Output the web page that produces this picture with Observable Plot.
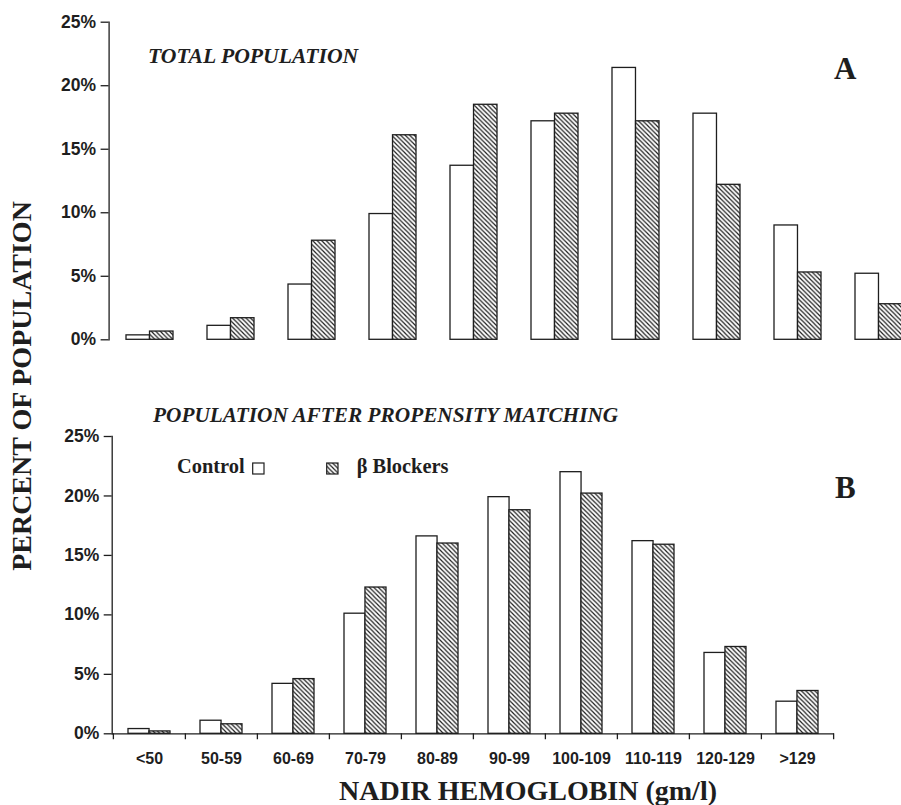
<!DOCTYPE html>
<html><head><meta charset="utf-8">
<script src="https://cdn.jsdelivr.net/npm/d3@7"></script>
<script src="https://cdn.jsdelivr.net/npm/@observablehq/plot@0.6"></script>
<style>
body{margin:0;background:#fff;}
#wrap{position:relative;width:901px;height:805px;overflow:hidden;background:#fff;}
</style></head><body><div id="wrap"></div>
<script>
// ---- data ----
const categories = ["<50","50-59","60-69","70-79","80-89","90-99","100-109","110-119","120-129",">129"];
const groups = ["Control","β Blockers"];
const totalControl  = [0.35,1.1,4.35,9.9,13.7,17.2,21.4,17.8,9.0,5.2];
const totalBlockers = [0.65,1.7,7.8,16.1,18.5,17.8,17.2,12.2,5.3,2.8];
const matchedControl  = [0.4,1.1,4.2,10.1,16.6,19.9,22.0,16.2,6.8,2.7];
const matchedBlockers = [0.2,0.8,4.6,12.3,16.0,18.8,20.2,15.9,7.3,3.6];
const yTicks = [0,5,10,15,20,25];
const panelTitles = ["TOTAL POPULATION","POPULATION AFTER PROPENSITY MATCHING"];
const panelLetters = ["A","B"];
const yTitle = "PERCENT OF POPULATION";
const xTitle = "NADIR HEMOGLOBIN (gm/l)";

const toRows = (a, b) => categories.flatMap((c, i) => [
  {cat: c, group: groups[0], value: a[i]},
  {cat: c, group: groups[1], value: b[i]}
]);
const topRows = toRows(totalControl, totalBlockers);
const botRows = toRows(matchedControl, matchedBlockers);

const ink = "#1e1e1e";
const wrap = document.getElementById("wrap");

// overlay svg with pattern defs, titles, legend
const ov = d3.select(wrap).append("svg")
  .attr("width", 901).attr("height", 805)
  .style("position","absolute").style("left","0").style("top","0")
  .style("z-index","2").style("pointer-events","none");
const pat = ov.append("defs").append("pattern")
  .attr("id","hatch").attr("patternUnits","userSpaceOnUse")
  .attr("width",4.5).attr("height",4.5);
pat.append("rect").attr("width",4.5).attr("height",4.5).attr("fill","white");
pat.append("path").attr("d","M-1,-1 L5.5,5.5 M3.5,-1 L5.5,1 M-1,3.5 L1,5.5")
  .attr("stroke", ink).attr("stroke-width",1.2);

const PAD_IN = 0.42, PAD_OUT = 0.21;

function panel({rows, top, height, mTop, mBottom, mLeft, xRange, showX}) {
  const n = categories.length;
  const step = (xRange[1] - xRange[0]) / n;
  const half = step * (1 - PAD_IN) / 2;
  const marks = [
    Plot.barY(rows.filter(d => d.group === groups[0]), {
      x: "cat", y: "value", fill: "white", stroke: ink, strokeWidth: 1.3, insetRight: half
    }),
    Plot.barY(rows.filter(d => d.group === groups[1]), {
      x: "cat", y: "value", fill: "url(#hatch)", stroke: ink, strokeWidth: 1.3, insetLeft: half
    }),
    Plot.axisY({ticks: yTicks, tickFormat: d => d + "%", tickSize: 8, tickPadding: 5,
      fontSize: 17.5, strokeWidth: 1.3, label: null}),
    Plot.frame({anchor: "left", stroke: ink, strokeWidth: 1.3})
  ];
  if (showX) {
    marks.push(
      Plot.ruleY([0], {stroke: ink, strokeWidth: 1.3}),
      Plot.ruleX(categories, {x: d => d, y1: 0, y2: -0.5, dx: -step / 2, stroke: ink, strokeWidth: 1.3}),
      Plot.ruleX(categories.slice(-1), {x: d => d, y1: 0, y2: -0.5, dx: step / 2, stroke: ink, strokeWidth: 1.3}),
      Plot.axisX({tickSize: 0, tickPadding: 18.5, fontSize: 16, label: null})
    );
  }
  const svg = Plot.plot({
    width: 901, height,
    marginTop: mTop, marginBottom: mBottom, marginLeft: mLeft, marginRight: 901 - xRange[1],
    x: {type: "band", domain: categories, range: xRange, paddingInner: PAD_IN, paddingOuter: PAD_OUT, label: null, axis: null},
    y: {domain: [0, 25], label: null, axis: null},
    style: {fontFamily: "'Liberation Sans', Arial, sans-serif", fontWeight: "bold", color: ink, background: "transparent", overflow: "hidden"},
    marks
  });
  svg.style.position = "absolute";
  svg.style.left = "0px";
  svg.style.top = top + "px";
  svg.style.overflow = "hidden";
  wrap.appendChild(svg);
}

panel({rows: topRows, top: 0, height: 360, mTop: 21.7, mBottom: 20.7, mLeft: 108.6, xRange: [108.6, 919.6], showX: false});
panel({rows: botRows, top: 380, height: 400, mTop: 56, mBottom: 46.7, mLeft: 111.7, xRange: [111.7, 834], showX: true});

const serif = "'Liberation Serif', 'Times New Roman', serif";
function txt(x, y, s, size, italic, anchor = "start", rotate = 0) {
  const t = ov.append("text").attr("x", x).attr("y", y).text(s)
    .attr("font-family", serif).attr("font-weight", "bold")
    .attr("font-style", italic ? "italic" : "normal")
    .attr("font-size", size).attr("fill", ink).attr("text-anchor", anchor);
  if (rotate) t.attr("transform", `rotate(${rotate},${x},${y})`);
  return t;
}
txt(148, 62.5, panelTitles[0], 21.7, true);
txt(153, 421.7, panelTitles[1], 21.3, true);
txt(834, 79, panelLetters[0], 31, false);
txt(835, 498.3, panelLetters[1], 31, false);
txt(31, 386, yTitle, 28, false, "middle", -90);
txt(528, 800, xTitle, 28, false, "middle");

// legend
txt(177, 473, groups[0], 20.4, false);
ov.append("rect").attr("x", 252.7).attr("y", 463).attr("width", 11.3).attr("height", 11)
  .attr("fill", "white").attr("stroke", ink).attr("stroke-width", 1.2);
ov.append("rect").attr("x", 326.7).attr("y", 463).attr("width", 11.3).attr("height", 11)
  .attr("fill", "url(#hatch)").attr("stroke", ink).attr("stroke-width", 1.2);
txt(356.7, 473, groups[1], 20.4, false);
</script></body></html>
